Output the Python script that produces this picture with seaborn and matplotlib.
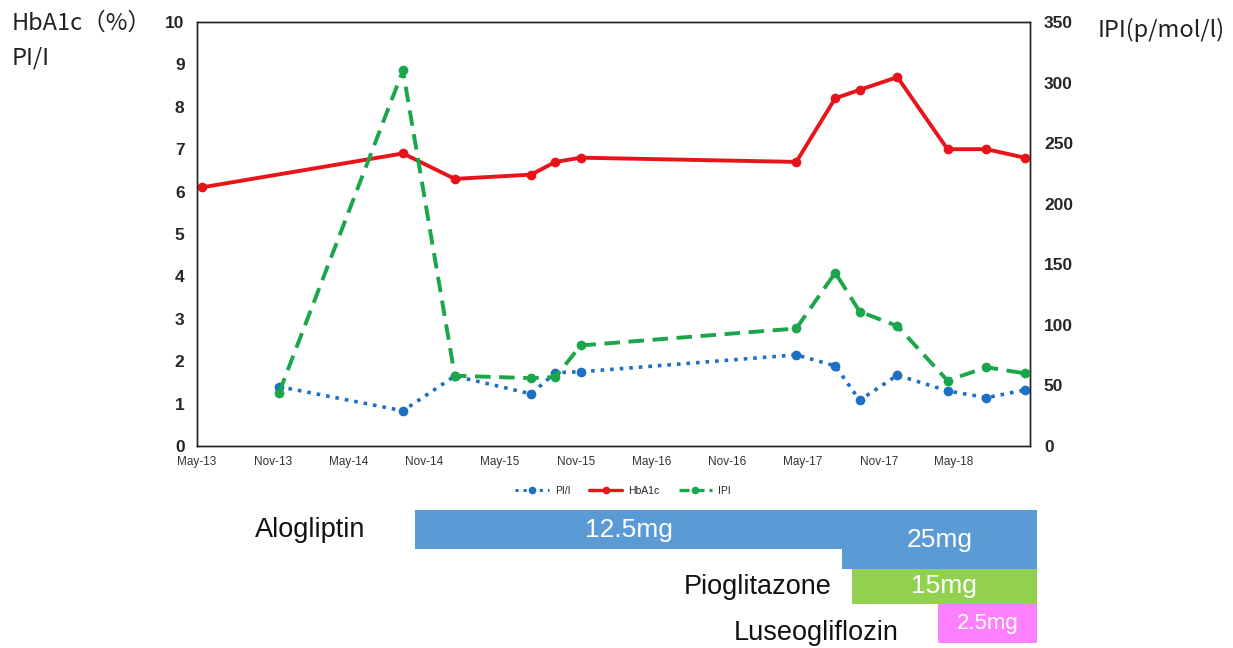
import numpy as np
import pandas as pd
import matplotlib
matplotlib.use("Agg")
import matplotlib.pyplot as plt
import matplotlib.dates as mdates
from matplotlib.lines import Line2D
import seaborn as sns

# ---------------- data ----------------
hba1c_dates = ["2013-05-13", "2014-09-10", "2015-01-13", "2015-07-16", "2015-09-13",
               "2015-11-13", "2017-04-16", "2017-07-19", "2017-09-16", "2017-12-16",
               "2018-04-16", "2018-07-19", "2018-10-19"]
hba1c = [6.1, 6.9, 6.3, 6.4, 6.7, 6.8, 6.7, 8.2, 8.4, 8.7, 7.0, 7.0, 6.8]

ipi_dates = ["2013-11-15", "2014-09-10", "2015-01-13", "2015-07-16", "2015-09-13",
             "2015-11-13", "2017-04-16", "2017-07-19", "2017-09-16", "2017-12-16",
             "2018-04-16", "2018-07-19", "2018-10-19"]
pii = [1.4, 0.83, 1.65, 1.23, 1.73, 1.75, 2.15, 1.89, 1.08, 1.67, 1.30, 1.14, 1.32]
ipi = [44, 310, 58, 56, 57, 83, 97, 143, 111, 99, 54, 65, 60]

tick_dates = ["2013-05-01", "2013-11-01", "2014-05-01", "2014-11-01", "2015-05-01",
              "2015-11-01", "2016-05-01", "2016-11-01", "2017-05-01", "2017-11-01",
              "2018-05-01", "2018-11-01"]
tick_labels = ["May-13", "Nov-13", "May-14", "Nov-14", "May-15", "Nov-15", "May-16",
               "Nov-16", "May-17", "Nov-17", "May-18", ""]

drugs = ["Alogliptin", "", "Pioglitazone", "Luseogliflozin"]
doses = ["12.5mg", "25mg", "15mg", "2.5mg"]
dose_start = ["2014-10-10", "2017-08-04", "2017-08-28", "2018-03-25"]
dose_end = ["2017-08-04", "2018-11-18", "2018-11-18", "2018-11-18"]

# ---------------- style ----------------
sns.set_theme(style="white")
plt.rcParams["font.family"] = ["Liberation Sans", "DejaVu Sans"]

RED = "#E8141C"
GREEN = "#1AA64A"
BLUE = "#1F6FC5"
BAR_COLORS = ["#5B9BD5", "#5B9BD5", "#92D050", "#FF80FF"]

fig = plt.figure(figsize=(12.33, 6.48), dpi=100)
ax = fig.add_axes([197 / 1233, 1 - 446 / 648, 833 / 1233, 424 / 648])
ax2 = ax.twinx()

df_h = pd.DataFrame({"date": pd.to_datetime(hba1c_dates), "HbA1c": hba1c})
df_i = pd.DataFrame({"date": pd.to_datetime(ipi_dates), "PI/I": pii, "IPI": ipi})

sns.lineplot(data=df_i, x="date", y="PI/I", ax=ax, color=BLUE, linestyle=":",
             linewidth=2.6, marker="o", markersize=7, markeredgewidth=0, zorder=3)
sns.lineplot(data=df_h, x="date", y="HbA1c", ax=ax, color=RED, linestyle="-",
             linewidth=2.8, marker="o", markersize=7, markeredgewidth=0, zorder=4)
sns.lineplot(data=df_i, x="date", y="IPI", ax=ax2, color=GREEN, linestyle=(0, (4, 2.2)),
             linewidth=2.8, marker="o", markersize=7, markeredgewidth=0, zorder=3)

xmin = mdates.date2num(pd.Timestamp(tick_dates[0]))
xmax = mdates.date2num(pd.Timestamp(tick_dates[-1]))
ax.set_xlim(xmin, xmax)
ax.set_ylim(0, 10)
ax2.set_ylim(0, 350)
ax.set_yticks(range(0, 11))
ax2.set_yticks(range(0, 351, 50))
ax.set_xticks([mdates.date2num(pd.Timestamp(d)) for d in tick_dates])
ax.set_xticklabels(tick_labels, fontsize=8.5, color="#333333")
ax.set_xlabel("")
ax.set_ylabel("")
ax2.set_ylabel("")

for a in (ax, ax2):
    for s in a.spines.values():
        s.set_color("#222222")
        s.set_linewidth(1.0)
ax.tick_params(axis="x", direction="out", length=4, width=1, color="#222222", pad=3)
ax.tick_params(axis="y", length=0, labelsize=12.5, pad=9)
ax2.tick_params(axis="y", length=0, labelsize=12.5, pad=10)
for lab in ax.get_yticklabels() + ax2.get_yticklabels():
    lab.set_fontweight("bold")
ax.grid(False)
ax2.grid(False)
if ax.get_legend():
    ax.get_legend().remove()
if ax2.get_legend():
    ax2.get_legend().remove()

# axis titles
cjk = ["Noto Sans CJK JP", "DejaVu Sans"]
fig.text(12 / 1233, 1 - 23 / 648, "HbA1c（%）", fontsize=17, family=cjk, va="center", ha="left", color="#222222")
fig.text(12 / 1233, 1 - 58 / 648, "PI/I", fontsize=17, family=cjk, va="center", ha="left", color="#222222")
fig.text(1098 / 1233, 1 - 30 / 648, "IPI(p/mol/l)", fontsize=17, family=cjk, va="center", ha="left", color="#222222")

# legend
handles = [
    Line2D([], [], color=BLUE, linestyle=":", linewidth=2.2, marker="o", markersize=5.5, markeredgewidth=0),
    Line2D([], [], color=RED, linestyle="-", linewidth=2.4, marker="o", markersize=5.5, markeredgewidth=0),
    Line2D([], [], color=GREEN, linestyle=(0, (3, 1.5)), linewidth=2.4, marker="o", markersize=5.5, markeredgewidth=0),
]
fig.legend(handles, ["PI/I", "HbA1c", "IPI"], loc="center", bbox_to_anchor=(623 / 1233, 1 - 491 / 648),
           ncol=3, frameon=False, fontsize=7.5, handlelength=3.2, columnspacing=1.8, handletextpad=0.6)

# ---------------- medication bars ----------------
axb = fig.add_axes([197 / 1233, 0, 833 / 1233, 148 / 648])
axb.set_xlim(xmin, xmax)
axb.set_ylim(148, 0)
axb.axis("off")
row_top = [10, 10, 69, 104]
row_h = [39, 59, 35, 39]
text_fs = [19, 19, 19, 16]
for i in range(len(doses)):
    s = mdates.date2num(pd.Timestamp(dose_start[i]))
    e = mdates.date2num(pd.Timestamp(dose_end[i]))
    axb.barh(row_top[i] + row_h[i] / 2, e - s, left=s, height=row_h[i], color=BAR_COLORS[i],
             edgecolor="none", clip_on=False, zorder=2)
    axb.text((s + e) / 2, row_top[i] + row_h[i] / 2, doses[i], color="white", fontsize=text_fs[i],
             ha="center", va="center", clip_on=False, zorder=3)

fig.text(255 / 1233, 1 - 530 / 648, drugs[0], fontsize=19.5, ha="left", va="center", color="#111111")
fig.text(832 / 1233, 1 - 587 / 648, drugs[2], fontsize=19.5, ha="right", va="center", color="#111111")
fig.text(899 / 1233, 1 - 633 / 648, drugs[3], fontsize=19.5, ha="right", va="center", color="#111111")

fig.savefig("out.png", dpi=100)
